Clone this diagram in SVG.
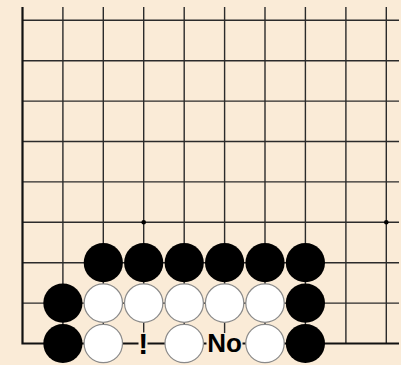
<svg xmlns="http://www.w3.org/2000/svg" width="401" height="365" viewBox="0 0 401 365">
<style>
.g{stroke:#2b2b2b;stroke-width:1.4;fill:none}
.e{stroke:#111;stroke-width:2.2;fill:none}
.b{fill:#000}
.w{fill:#fff;stroke:#8a8a8a;stroke-width:1.2}
.t{font-family:"Liberation Sans",Arial,sans-serif;font-weight:bold;fill:#000;text-anchor:middle}
.bg{fill:#FAEBD7}
</style>
<rect width="401" height="365" fill="#FAEBD7"/>
<g id="grid">
<path class="g" d="M62.9 7V343.5M103.3 7V343.5M143.7 7V343.5M184.2 7V343.5M224.6 7V343.5M265 7V343.5M305.4 7V343.5M345.9 7V343.5M386.3 7V343.5"/>
<path class="g" d="M22.5 20.3H399M22.5 60.7H399M22.5 101.1H399M22.5 141.5H399M22.5 181.9H399M22.5 222.3H399M22.5 262.7H399M22.5 303.1H399"/>
<path class="e" d="M22.5 7V343.5H399"/>
<circle cx="143.7" cy="222.3" r="2.3" fill="#000"/>
<circle cx="386.3" cy="222.3" r="2.3" fill="#000"/>
</g>
<g id="stones-black-row6">
<circle id="b1" class="b" cx="103.3" cy="262.7" r="19.6"/>
<circle id="b2" class="b" cx="143.7" cy="262.7" r="19.6"/>
<circle id="b3" class="b" cx="184.2" cy="262.7" r="19.6"/>
<circle id="b4" class="b" cx="224.6" cy="262.7" r="19.6"/>
<circle id="b5" class="b" cx="265" cy="262.7" r="19.6"/>
<circle id="b6" class="b" cx="305.4" cy="262.7" r="19.6"/>
</g>
<g id="row7">
<circle id="b7" class="b" cx="62.9" cy="303.1" r="19.6"/>
<circle id="w1" class="w" cx="103.3" cy="303.1" r="19.2"/>
<circle id="w2" class="w" cx="143.7" cy="303.1" r="19.2"/>
<circle id="w3" class="w" cx="184.2" cy="303.1" r="19.2"/>
<circle id="w4" class="w" cx="224.6" cy="303.1" r="19.2"/>
<circle id="w5" class="w" cx="265" cy="303.1" r="19.2"/>
<circle id="b8" class="b" cx="305.4" cy="303.1" r="19.6"/>
</g>
<g id="row8">
<circle id="b9" class="b" cx="62.9" cy="343.5" r="19.6"/>
<circle id="w6" class="w" cx="103.3" cy="343.5" r="19.2"/>
<g id="mark-excl">
<rect class="bg" x="138.5" y="332.5" width="9" height="22"/>
<text class="t" x="143.2" y="354" font-size="30">!</text>
</g>
<circle id="w7" class="w" cx="184.2" cy="343.5" r="19.2"/>
<g id="mark-no">
<rect class="bg" x="206.5" y="333" width="36" height="20"/>
<text class="t" x="224.6" y="351.7" font-size="26">No</text>
</g>
<circle id="w8" class="w" cx="265" cy="343.5" r="19.2"/>
<circle id="b10" class="b" cx="305.4" cy="343.5" r="19.6"/>
</g>
</svg>
